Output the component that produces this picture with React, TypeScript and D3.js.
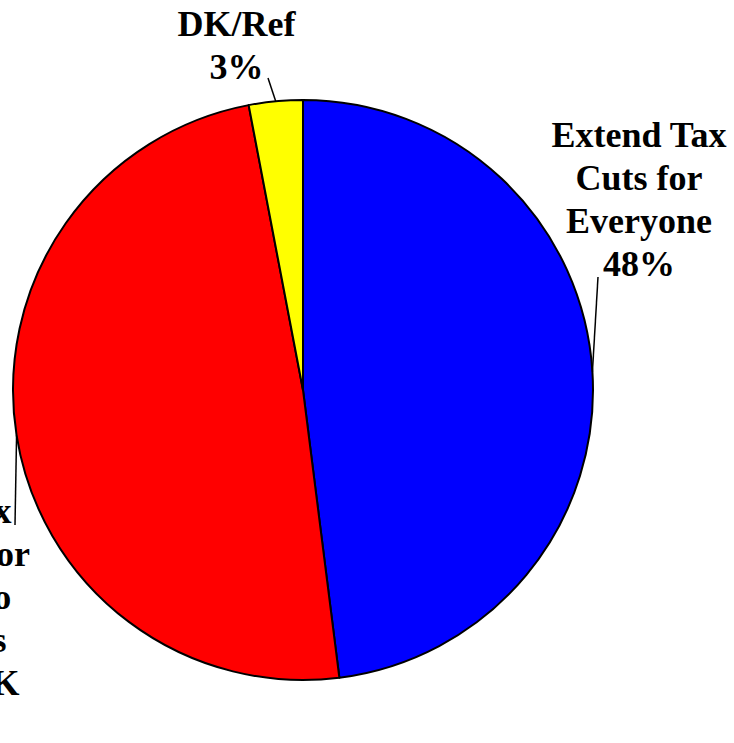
import React from "react";
import * as d3 from "d3";

const categories = ["Extend Tax Cuts for Everyone", "Extend Tax Cuts Only for Those Who Make Less Than $250K", "DK/Ref"];
const values = [48, 49, 3];
const colors = ["#0000FF", "#FF0000", "#FFFF00"];
const labelLines = [
  ["Extend Tax", "Cuts for", "Everyone", "48%"],
  ["Extend Tax", "Cuts Only for", "Those Who", "Make Less", "Than $250K", "49%"],
  ["DK/Ref", "3%"],
];

const W = 734;
const H = 743;
const cx = 303;
const cy = 390;
const R = 290;
const FONT = 36;
const LH = 43;

// label layout: center x, first baseline, leader end point
const labelLayout = [
  { x: 639, y: 147, end: [598, 277] },
  { x: -76, y: 523, end: [15, 525] },
  { x: 236.5, y: 36, end: [268, 78] },
];

export default function App() {
  const pie = d3.pie<number>().sort(null).value((d) => d).startAngle(0).endAngle(2 * Math.PI);
  const arcs = pie(values);
  const arc = d3.arc<d3.PieArcDatum<number>>().innerRadius(0).outerRadius(R);
  return (
    <svg
      width={W}
      height={H}
      style={{ position: "absolute", left: 0, top: 0, background: "#fff" }}
      fontFamily="'Liberation Serif', 'Times New Roman', serif"
    >
      <g transform={`translate(${cx},${cy})`}>
        {arcs.map((a, i) => (
          <path key={i} d={arc(a) || ""} fill={colors[i]} stroke="#000" strokeWidth={2} strokeLinejoin="round" />
        ))}
      </g>
      {arcs.map((a, i) => {
        const mid = (a.startAngle + a.endAngle) / 2;
        const px = cx + R * Math.sin(mid);
        const py = cy - R * Math.cos(mid);
        const L = labelLayout[i];
        return (
          <g key={"l" + i}>
            <line x1={px} y1={py} x2={L.end[0]} y2={L.end[1]} stroke="#000" strokeWidth={1.5} />
            <text textAnchor="middle" fontWeight="bold" fontSize={FONT} fill="#000">
              {labelLines[i].map((t, j) => (
                <tspan key={j} x={L.x} y={L.y + j * LH}>
                  {t}
                </tspan>
              ))}
            </text>
          </g>
        );
      })}
    </svg>
  );
}
